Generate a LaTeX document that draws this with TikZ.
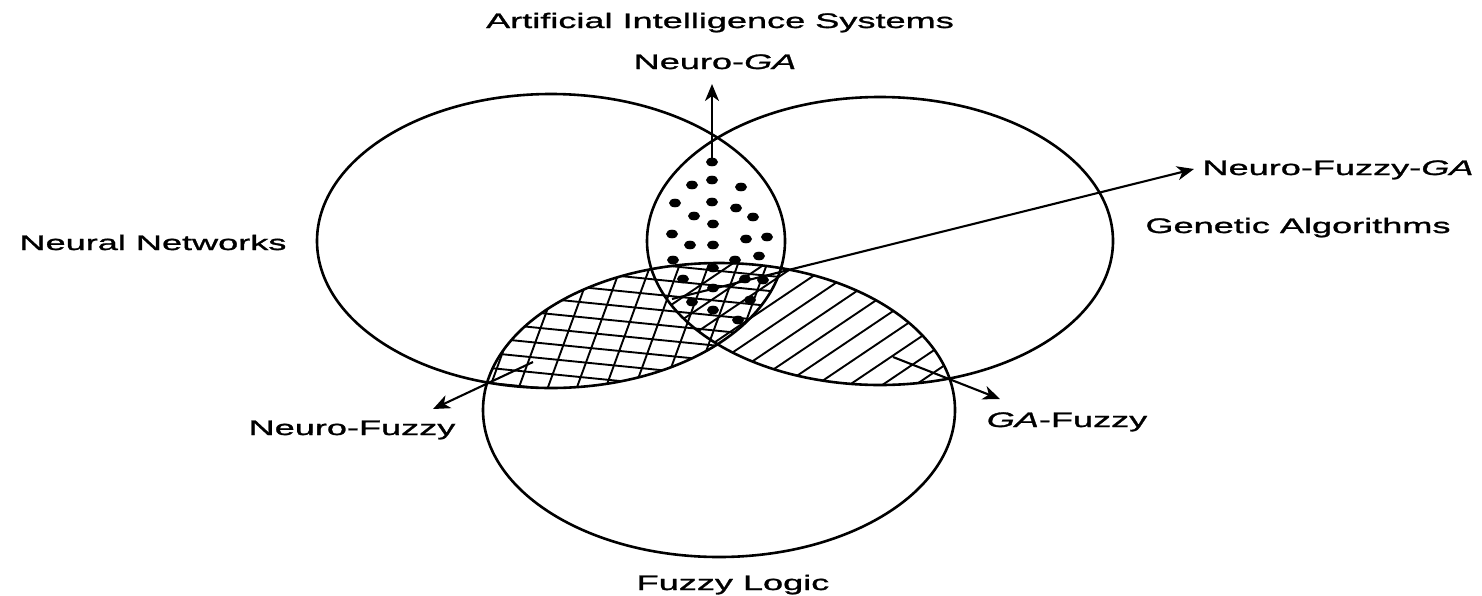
\documentclass[tikz,border=0pt]{standalone}
\usepackage{fontspec}
\newfontfamily\lab[FakeStretch=1.72,FakeBold=1.3]{Liberation Sans}
\usetikzlibrary{arrows.meta}
\begin{document}
\begin{tikzpicture}[x=1pt,y=-1pt,
  ring/.style={line width=2.6pt},
  hatch/.style={line width=1.9pt},
  arr/.style={line width=2.1pt,-{Stealth[length=17pt,width=14pt,inset=5pt]}},
  lbl/.style={font=\lab\fontsize{21}{25}\selectfont, inner sep=0pt, anchor=base},
  dot/.style={fill=black}]
\useasboundingbox (0,0) rectangle (1482,595);
\fill[white] (0,0) rectangle (1482,595);

% Neuro-Fuzzy cross-hatch (left ellipse ∩ bottom ellipse)
\begin{scope}
  \clip (551,241) ellipse [x radius=234, y radius=147];
  \clip (719,410) ellipse [x radius=236, y radius=147];
  \foreach \k in {0,...,15} \draw[hatch] (460,{245+15*\k}) -- (800,{245+15*\k+34});
  \foreach \k in {0,...,14} \draw[hatch] ({420+29*\k},420) -- ({420+29*\k+73},220);
\end{scope}

% GA-Fuzzy diagonal hatch (right ellipse ∩ bottom ellipse)
\begin{scope}
  \clip (880,241) ellipse [x radius=233, y radius=144];
  \clip (719,410) ellipse [x radius=236, y radius=147];
  \foreach \k in {0,...,13} \draw[hatch] ({530+33*\k},400) -- ({530+33*\k+297},200);
\end{scope}

% Neuro-GA dots (left ellipse ∩ right ellipse)
\foreach \p in {(712,162),(712,180),(692,185),(741,187),(675,203),(712,202),(736,208),
  (694,216),(753,217),(713,224),(672,234),(767,237),(746,239),(690,245),(713,245),
  (673,260),(735,260),(759,256),(713,268),(683,279),(745,279),(763,280),(713,288),
  (692,302),(750,300),(713,310),(738,320)}
  \fill[dot] \p ellipse [x radius=6, y radius=4.3];

% the three sets
\draw[ring] (551,241) ellipse [x radius=234, y radius=147];
\draw[ring] (880,241) ellipse [x radius=233, y radius=144];
\draw[ring] (719,410) ellipse [x radius=236, y radius=147];

% connectors
\coordinate (ngS) at (712,162);  \coordinate (ngT) at (712,84);
\coordinate (nfgS) at (672,299); \coordinate (nfgT) at (1194,169);
\coordinate (nfS) at (533,362);  \coordinate (nfT) at (433,409);
\coordinate (gfS) at (893,357);  \coordinate (gfT) at (1000,399);
\draw[arr] (ngS) -- (ngT);
\draw[arr] (nfgS) -- (nfgT);
\draw[arr] (nfS) -- (nfT);
\draw[arr] (gfS) -- (gfT);

% labels
\node[lbl] (ais) at (720,28) {Artificial Intelligence Systems};
\node[lbl] (ng)  at (715,69) {Neuro-\textit{GA}};
\node[lbl] (nn)  at (153,250) {Neural Networks};
\node[lbl] (nfg) at (1338,175) {Neuro-Fuzzy-\textit{GA}};
\node[lbl] (ga)  at (1298,233) {Genetic Algorithms};
\node[lbl] (nf)  at (352,435) {Neuro-Fuzzy};
\node[lbl] (gf)  at (1067,427) {\textit{GA}-Fuzzy};
\node[lbl] (fl)  at (733,590) {Fuzzy Logic};
\end{tikzpicture}
\end{document}
